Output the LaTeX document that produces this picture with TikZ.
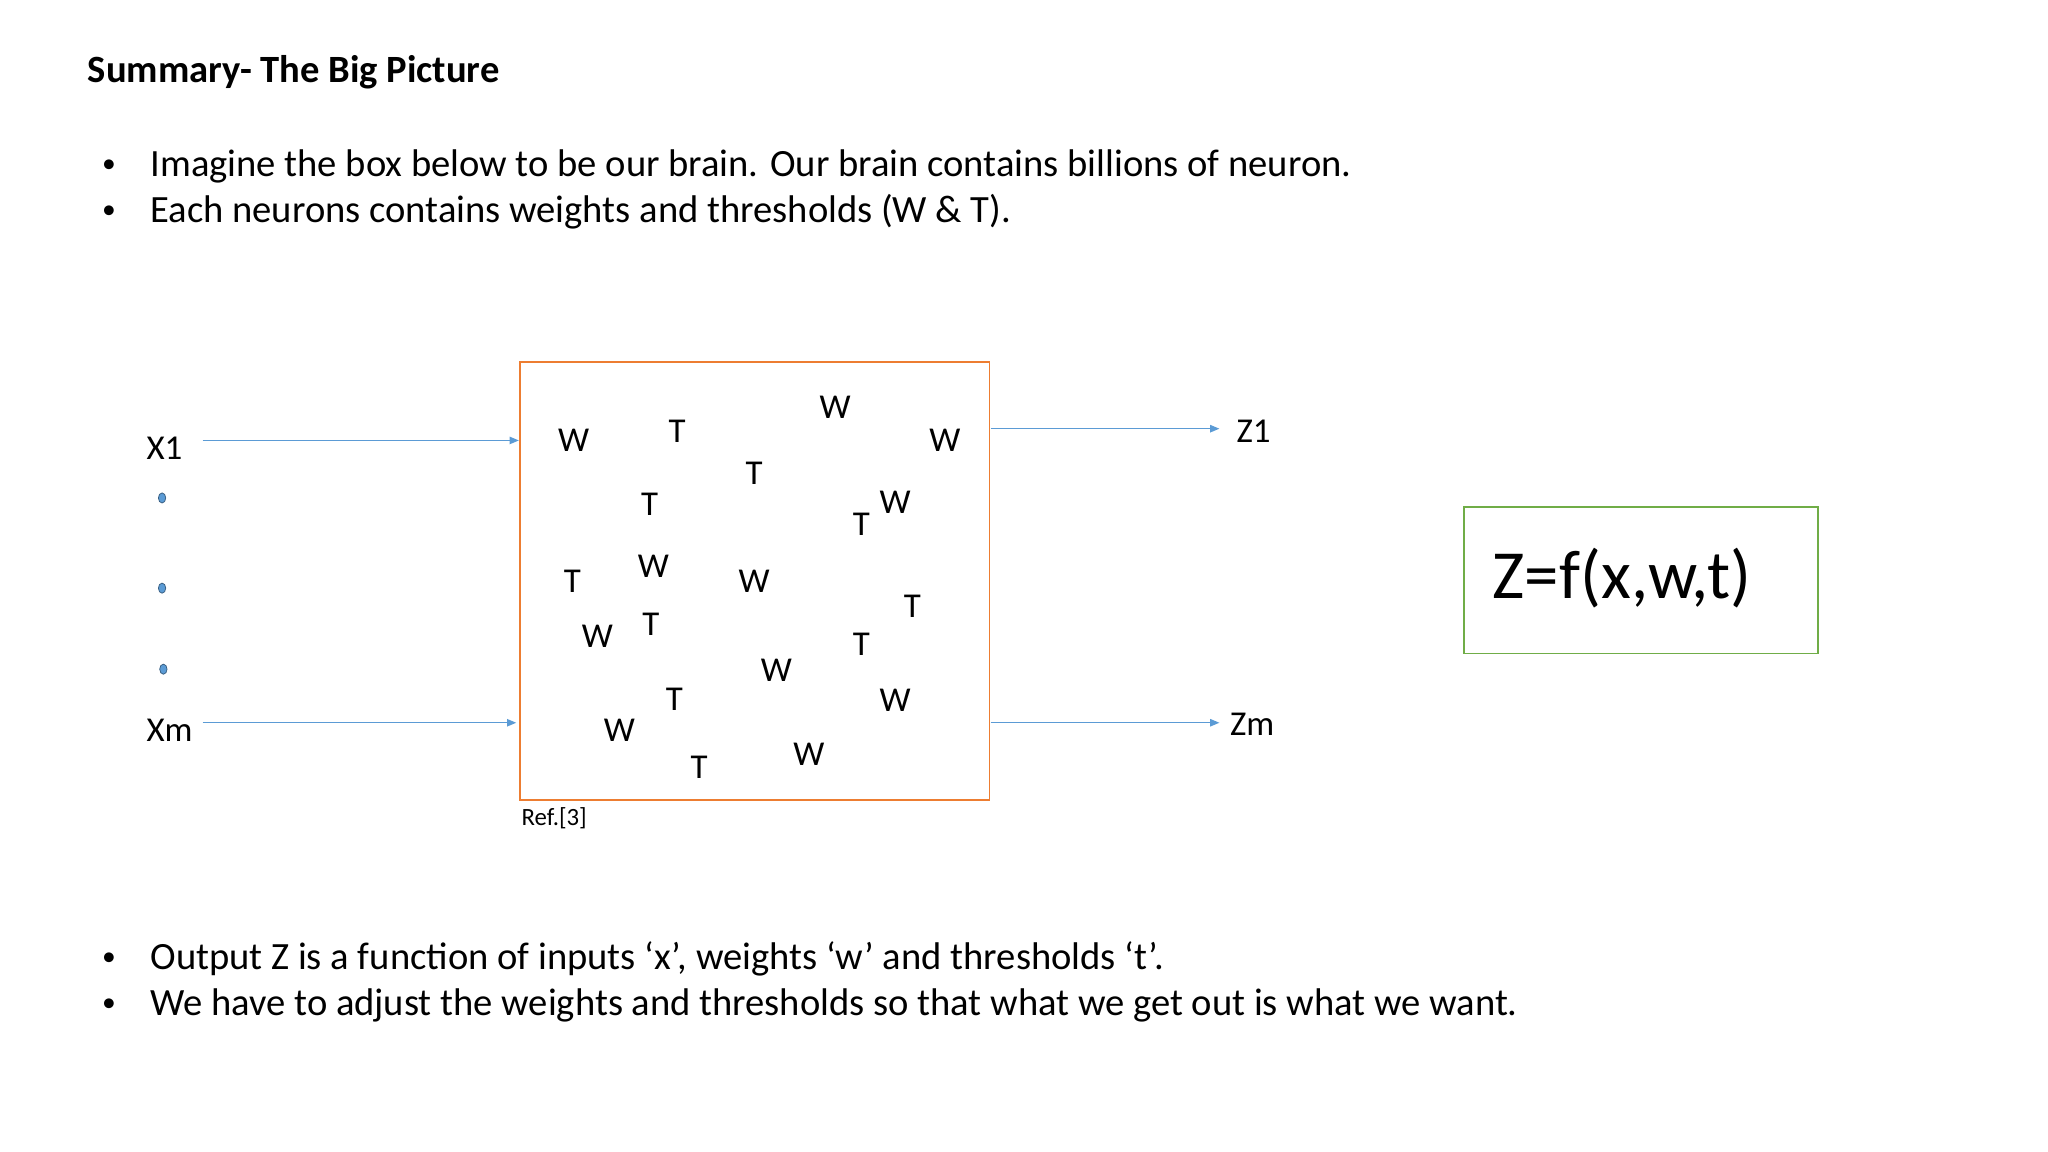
\documentclass[tikz,border=0pt]{standalone}
\usepackage{fontspec}
\setmainfont{Carlito}
\usetikzlibrary{arrows.meta,shapes.geometric}
\definecolor{arr}{RGB}{91,155,213}
\definecolor{org}{RGB}{237,125,49}
\definecolor{grn}{RGB}{112,173,71}
\tikzset{
 body/.style={anchor=west,inner sep=0,font=\fontsize{42}{46}\selectfont},
 bul/.style={anchor=west,inner sep=0,font=\fontsize{30}{34}\selectfont},
 wt/.style={inner sep=0,font=\fontsize{38}{42}\selectfont},
 conn/.style={arr,line width=1.3pt,-{Triangle[length=10pt,width=8pt]}},
 dotn/.style={ellipse,fill=arr,draw=arr!60!black,line width=0.8pt,minimum width=8pt,minimum height=11pt,inner sep=0}
}
\begin{document}
\begin{tikzpicture}[x=0.05cm,y=-0.05cm]
\useasboundingbox (0,0) rectangle (1567,881);
\node[anchor=west,inner sep=0,font=\bfseries\fontsize{42}{46}\selectfont] (title) at (67,55) {Summary- The Big Picture};
\node[bul] (b1) at (78,127) {•};
\node[body] (t1) at (115,127) {Imagine the box below to be our brain. Our brain contains billions of neuron.};
\node[bul] (b2) at (78,162) {•};
\node[body] (t2) at (115,162) {Each neurons contains weights and thresholds (W \& T).};
\node[bul] (b3) at (78,734) {•};
\node[body] (t3) at (115,734) {Output Z is a function of inputs ‘x’, weights ‘w’ and thresholds ‘t’.};
\node[bul] (b4) at (78,769) {•};
\node[body] (t4) at (115,769) {We have to adjust the weights and thresholds so that what we get out is what we want.};
\draw[org,line width=1.5pt] (398,277) rectangle (757,612);
\node[anchor=north west,inner sep=0,font=\fontsize{27}{30}\selectfont] (ref) at (399,618) {Ref.[3]};
\foreach \x/\y/\s [count=\i] in {439/337/W,518/330/T,639/312/W,723/337/W,577/362/T,497/386/T,685/384/W,659/401/T,438/445/T,500/433/W,577/445/W,698/464/T,457/487/W,498/478/T,659/493/T,594/513/W,516/535/T,685/536/W,474/559/W,535/587/T,619/577/W}
  \node[wt] (n\i) at (\x,\y) {\s};
\node[wt,anchor=west] (x1) at (112,343) {X1};
\node[wt,anchor=west] (xm) at (112,559) {Xm};
\coordinate (x1s) at (155,337);
\coordinate (xms) at (155,553);
\coordinate (x1e) at (397,337);
\coordinate (xme) at (395,553);
\coordinate (z1s) at (758,328);
\coordinate (zms) at (758,553);
\coordinate (z1e) at (933,328);
\coordinate (zme) at (933,553);
\draw[conn] (x1s) -- (x1e);
\draw[conn] (xms) -- (xme);
\node[wt,anchor=west] (z1) at (946,330) {Z1};
\node[wt,anchor=west] (zm) at (941,554) {Zm};
\draw[conn] (z1s) -- (z1e);
\draw[conn] (zms) -- (zme);
\node[dotn] (d1) at (124,381) {};
\node[dotn] (d2) at (124,450) {};
\node[dotn] (d3) at (125,512) {};
\draw[grn,line width=1.5pt] (1120,388) rectangle (1391,500);
\node[anchor=west,inner sep=0,font=\fontsize{75}{80}\selectfont] (zf) at (1142,442) {Z=f(x,w,t)};
\end{tikzpicture}
\end{document}
